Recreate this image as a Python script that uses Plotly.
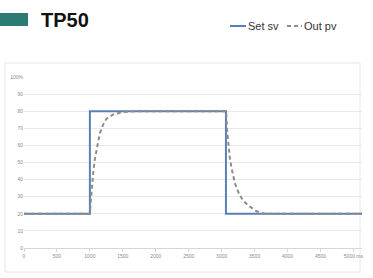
import plotly.graph_objects as go

# ---- data ----
sv_x = [0, 1000, 1000, 3065, 3065, 5130]
sv_y = [20, 20, 80, 80, 20, 20]

pv_x = [0, 1000, 1015, 1035, 1055, 1076, 1110, 1150, 1200, 1250, 1350, 1500, 1700,
        3068, 3080, 3100, 3125, 3160, 3200, 3260, 3320, 3400, 3530, 3650, 5130]
pv_y = [20, 20, 28, 38, 46, 52, 60, 67, 72, 75.5, 78, 79.5, 80,
        80, 70, 60, 52, 45, 38, 32, 28, 25, 21.5, 20, 20]

x_ticks = [0, 500, 1000, 1500, 2000, 2500, 3000, 3500, 4000, 4500, 5000]
x_labels = ["0", "500", "1000", "1500", "2000", "2500", "3000", "3500", "4000", "4500", "5000 ms"]
y_ticks = [0, 10, 20, 30, 40, 50, 60, 70, 80, 90, 100]
y_labels = ["0", "10", "20", "30", "40", "50", "60", "70", "80", "90", "100%"]
series_names = ["Set sv", "Out pv"]
series_colors = ["#5b80b9", "#8c8c8c"]

W, H = 373, 278
ML, MR, MT, MB = 24, 11, 77, 30
PW, PH = W - ML - MR, H - MT - MB


def px(x):
    return (x - ML) / PW


def py(y):
    return (H - MB - y) / PH


fig = go.Figure()
fig.add_trace(go.Scatter(x=sv_x, y=sv_y, mode="lines", name=series_names[0],
                         line=dict(color=series_colors[0], width=2)))
fig.add_trace(go.Scatter(x=pv_x, y=pv_y, mode="lines", name=series_names[1],
                         line=dict(color=series_colors[1], width=2, dash="4px,3px")))

# legend drawn by hand (keeps the margins fixed)
legend_shapes = [
    dict(type="line", xref="paper", yref="paper", x0=px(230), x1=px(246), y0=py(26), y1=py(26),
         line=dict(color=series_colors[0], width=2)),
    dict(type="line", xref="paper", yref="paper", x0=px(287), x1=px(302), y0=py(26), y1=py(26),
         line=dict(color=series_colors[1], width=2, dash="4px,3px")),
]
legend_ann = [
    dict(text=series_names[0], xref="paper", yref="paper", x=px(246), y=py(26),
         xanchor="left", yanchor="middle", showarrow=False,
         font=dict(size=11, color="#333", family="Liberation Sans")),
    dict(text=series_names[1], xref="paper", yref="paper", x=px(302), y=py(26),
         xanchor="left", yanchor="middle", showarrow=False,
         font=dict(size=11, color="#333", family="Liberation Sans")),
]

fig.update_layout(
    width=W, height=H,
    margin=dict(l=ML, r=MR, t=MT, b=MB, autoexpand=False),
    paper_bgcolor="white", plot_bgcolor="white",
    font=dict(family="Liberation Sans", color="#222"),
    showlegend=False,
    xaxis=dict(range=[0, 5130], tickvals=x_ticks, ticktext=x_labels, showgrid=False,
               zeroline=False, showline=True, linecolor="#d6d6d6", linewidth=1,
               ticks="outside", ticklen=3, tickcolor="#d6d6d6",
               tickfont=dict(size=5, color="#8a8a8a"), fixedrange=True),
    yaxis=dict(range=[0, 100], tickvals=y_ticks, ticktext=y_labels, showgrid=True,
               gridcolor="#e9e9e9", gridwidth=1, zeroline=False, showline=False,
               ticks="", tickfont=dict(size=5, color="#8a8a8a"), fixedrange=True),
    shapes=[
        dict(type="rect", xref="paper", yref="paper", x0=px(5), x1=px(360), y0=py(272), y1=py(63),
             line=dict(color="#e6e6e6", width=1), layer="below"),
        dict(type="rect", xref="paper", yref="paper", x0=px(0), x1=px(28), y0=py(26), y1=py(13),
             fillcolor="#2b7a74", line=dict(width=0)),
    ] + legend_shapes,
    annotations=[
        dict(text="<b>TP50</b>", xref="paper", yref="paper", x=px(39), y=py(20),
             xanchor="left", yanchor="middle", showarrow=False,
             font=dict(size=20, color="#111", family="Liberation Sans")),
    ] + legend_ann,
)

fig.write_html("out.html", config={"displayModeBar": False},
               post_script="document.body.style.margin='0';document.body.style.overflow='hidden';")
